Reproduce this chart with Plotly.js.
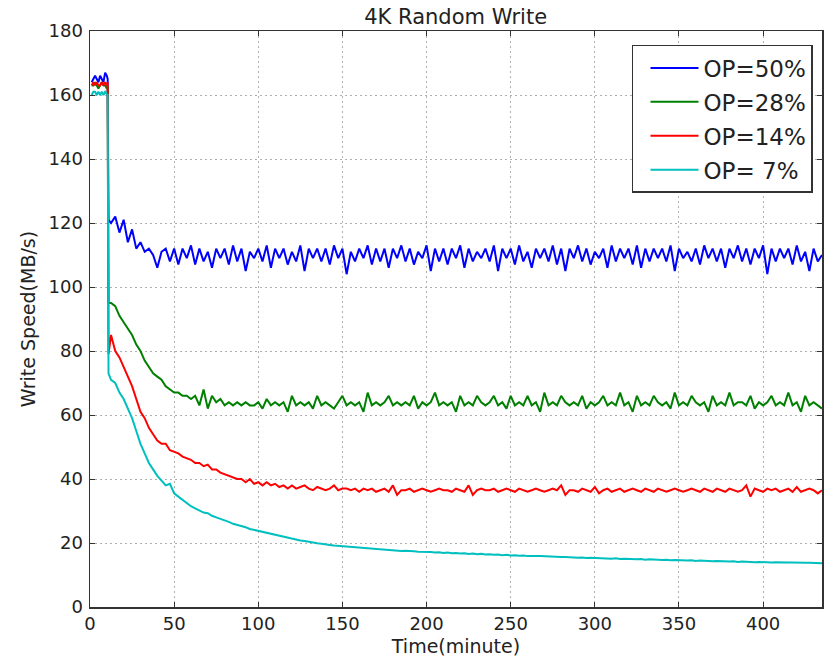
<!DOCTYPE html>
<html><head><meta charset="utf-8">
<script src="https://cdn.plot.ly/plotly-3.0.1.min.js"></script>
<style>body{margin:0;background:#fff}#chart{width:827px;height:657px}</style>
</head><body><div id="chart"></div>
<script>
// Time (minute)
const timeMin = [
1,2,3,4,5,6,7,8,9,10,10.5,11,
12.5,15,17.5,20,22.5,25,27.5,30,32.5,35,
37.5,40,42.5,45,47.5,50,52.5,55,57.5,60,
62.5,65,67.5,70,72.5,75,77.5,80,82.5,85,
87.5,90,92.5,95,97.5,100,102.5,105,107.5,110,
112.5,115,117.5,120,122.5,125,127.5,130,132.5,135,
137.5,140,142.5,145,147.5,150,152.5,155,157.5,160,
162.5,165,167.5,170,172.5,175,177.5,180,182.5,185,
187.5,190,192.5,195,197.5,200,202.5,205,207.5,210,
212.5,215,217.5,220,222.5,225,227.5,230,232.5,235,
237.5,240,242.5,245,247.5,250,252.5,255,257.5,260,
262.5,265,267.5,270,272.5,275,277.5,280,282.5,285,
287.5,290,292.5,295,297.5,300,302.5,305,307.5,310,
312.5,315,317.5,320,322.5,325,327.5,330,332.5,335,
337.5,340,342.5,345,347.5,350,352.5,355,357.5,360,
362.5,365,367.5,370,372.5,375,377.5,380,382.5,385,
387.5,390,392.5,395,397.5,400,402.5,405,407.5,410,
412.5,415,417.5,420,422.5,425,427.5,430,432.5,435];

// Write speed (MB/s), OP=50%
const op50 = [
164,165,166,165,164,166,165,164,167,166,165,121,
120,122,117,121,114,118,112,114,111,112,
110,106,111,112,108,112,107,112,109,113,
107,112,108,111,106,112,109,112,107,113,
108,112,105,111,109,112,108,113,106,112,
109,112,107,111,108,113,105,112,109,112,
108,112,107,113,109,112,104,111,108,112,
109,113,107,112,108,112,106,112,109,113,
108,112,107,111,109,113,105,112,108,112,
107,112,109,113,106,112,108,111,109,112,
108,113,105,112,109,112,107,113,108,111,
106,112,109,112,108,113,107,112,105,112,
109,113,108,112,107,111,109,112,106,113,
108,112,109,112,107,113,106,112,108,112,
109,112,108,113,105,112,109,111,108,112,
107,113,109,112,108,112,106,112,109,113,
108,112,107,112,109,113,104,112,108,112,
109,112,107,113,108,111,105,112,108,110];

// OP=28%
const op28 = [
163,163,164,163,162,163,164,163,163,162,163,95,
95,94,91,89,87,85,82,80,77,75,
73,72,71,69,68,67,67,66,66,65,
66,63,68,62,66,64,65,63,64,63,
64,63,64,63,63,64,62,65,63,64,
63,64,61,66,63,64,63,64,62,66,
63,64,63,62,64,66,63,64,63,64,
61,67,63,64,63,64,66,63,64,63,
64,63,66,62,64,63,64,67,63,64,
63,64,61,66,63,64,63,66,64,63,
64,66,63,64,62,66,63,64,63,66,
63,64,61,67,63,64,63,66,64,63,
64,63,66,62,64,63,64,66,63,64,
63,67,63,64,61,66,63,64,63,66,
64,63,64,62,67,63,64,63,66,64,
63,64,61,66,63,64,63,67,63,64,
64,63,66,62,64,63,64,66,63,64,
63,67,63,64,61,66,63,64,63,62];

// OP=14%
const op14 = [
163,164,163,164,163,163,164,163,164,163,164,79,
85,80,78,75,72,69,65,61,59,56,
54,52,51,51,49,48.5,48,47,46.5,46,
45,45,44,44.5,43,43,42,41.5,41,40.5,
40,40,39,40,38.5,39,38,39,38,38.5,
37.5,38,37,38,37,37.5,38,37,36.5,37.5,
37,36.5,37,38,36.5,37,37,36.5,37,36,
37,36.5,37,36,36.5,37,36,38,35,36.5,
36.5,37,36,36.5,37,36.5,36,36.5,37,36.5,
36.5,36,37,36.5,36,38,35,36.5,37,36.5,
36.5,37,36,36.5,37,36.5,36,37,36.5,36,
36.5,37,36.5,36,36.5,37,36.5,38,35,36.5,
36.5,36,37,36.5,36,37.5,35.5,36.5,37,36,
36.5,37,36,36.5,37,36.5,36,37,36.5,36,
37,36.5,36,36.5,37,36.5,36,36.5,37,36.5,
36,37,36.5,36,37,36.5,36,37,36.5,36,
36.5,38,34.5,37,36.5,36,37,36.5,37,36,
36.5,37,36,37.5,36,36.5,37,36.5,35.5,36.5];

// OP= 7%
const op7 = [
160,161,161,160,161,160,161,160,161,160,160,73,
71,70,67,65,62,59,55,51,48,45,
43,41,39.5,38,38.5,35.5,34.5,33.5,32.5,31.5,
30.8,30.2,29.5,29.3,28.5,28,27.6,27,26.6,26,
25.7,25.2,24.9,24.4,24.1,23.7,23.5,23,22.8,22.4,
22.2,21.8,21.6,21.3,21.1,20.8,20.6,20.3,20.2,19.9,
19.8,19.5,19.4,19.2,19.1,18.9,18.8,18.6,18.6,18.4,
18.4,18.2,18.2,18,18,17.8,17.9,17.7,17.7,17.5,
17.6,17.4,17.4,17.3,17.3,17.1,17.2,17,17.1,16.9,
17,16.8,16.9,16.7,16.8,16.6,16.7,16.5,16.6,16.4,
16.5,16.3,16.4,16.2,16.3,16.1,16.2,16,16.1,15.9,
16,15.9,15.9,15.8,15.8,15.7,15.7,15.6,15.6,15.5,
15.6,15.4,15.5,15.3,15.4,15.3,15.3,15.2,15.2,15.1,
15.2,15,15.1,15,15,14.9,15,14.8,14.9,14.8,
14.8,14.7,14.8,14.6,14.7,14.6,14.6,14.5,14.6,14.4,
14.5,14.4,14.4,14.3,14.4,14.3,14.3,14.2,14.3,14.1,
14.2,14.1,14.2,14,14.1,14,14.1,13.9,14,13.9,
14,13.9,13.9,13.8,13.9,13.8,13.8,13.7,13.8,13.7];

const seriesNames = ['OP=50%', 'OP=28%', 'OP=14%', 'OP= 7%'];
const seriesValues = [op50, op28, op14, op7];
const xTicks = [0, 50, 100, 150, 200, 250, 300, 350, 400];
const yTicks = [0, 20, 40, 60, 80, 100, 120, 140, 160, 180];

const colors = ['#0000ff', '#008000', '#ff0000', '#00bfbf'];
const FONT = 'DejaVu Sans, Verdana, sans-serif';

const traces = seriesValues.map((vals, i) => ({
  type: 'scatter', mode: 'lines',
  x: timeMin, y: vals,
  name: seriesNames[i],
  legendgroup: 'g' + i,
  line: {color: colors[i], width: 2}
}));

const axisCommon = {
  showline: true, mirror: 'ticks', linecolor: '#333', linewidth: 1.5,
  ticks: 'inside', ticklen: 5, tickcolor: '#333', tickwidth: 1,
  showgrid: true, gridcolor: '#b0b0b0', griddash: '2px,3px', gridwidth: 1,
  zeroline: false,
  tickfont: {family: FONT, size: 18, color: '#222'}
};

const layout = {
  width: 827, height: 657,
  margin: {l: 90, r: 5, t: 31, b: 50},
  paper_bgcolor: '#fff', plot_bgcolor: '#fff',
  title: {text: '4K Random Write', x: 0.551, xanchor: 'center', y: 0.974, yanchor: 'middle',
          font: {family: FONT, size: 21, color: '#222'}},
  xaxis: Object.assign({}, axisCommon, {
    range: [0, 435], tickvals: xTicks, ticktext: xTicks.map(String),
    title: {text: 'Time(minute)', standoff: 6, font: {family: FONT, size: 19, color: '#222'}}
  }),
  yaxis: Object.assign({}, axisCommon, {
    range: [0, 180], tickvals: yTicks, ticktext: yTicks.map(String),
    ticklabelstandoff: 2,
    title: {text: 'Write Speed(MB/s)', standoff: 8, font: {family: FONT, size: 19, color: '#222'}}
  }),
  showlegend: true,
  legend: {
    x: 0.9877, xanchor: 'right', y: 0.9757, yanchor: 'top',
    bgcolor: '#fff', bordercolor: '#333', borderwidth: 1.5,
    font: {family: FONT, size: 23, color: '#222'},
    itemwidth: 48,
    indentation: 12,
    tracegroupgap: 1
  }
};

Plotly.newPlot('chart', traces, layout, {displayModeBar: false, staticPlot: true});
</script>
</body></html>
